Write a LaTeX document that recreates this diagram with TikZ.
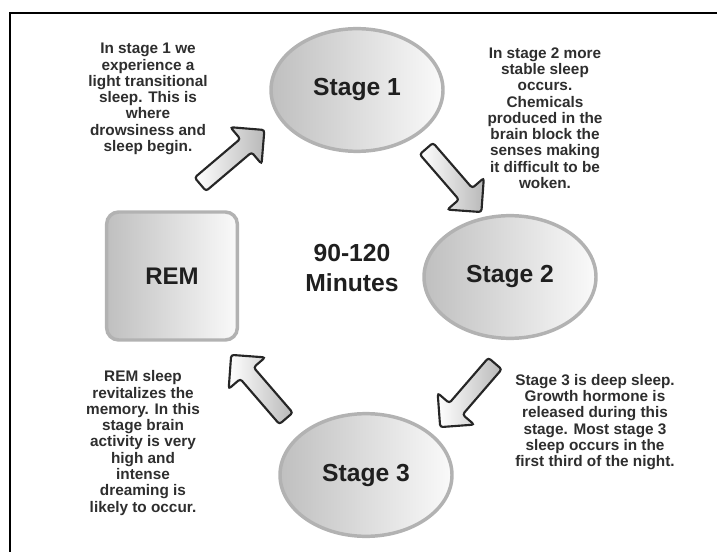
\documentclass[tikz,border=0pt]{standalone}
\usepackage{fontspec}
\setmainfont{Liberation Sans}
\usetikzlibrary{shapes.geometric,shapes.arrows}
\tikzset{
  stagenode/.style={ellipse, draw=gray!60, line width=2.6pt, left color=gray!50, right color=gray!4,
    minimum width=129pt, minimum height=92pt, text=black!88, font=\fontsize{18.5}{21}\selectfont\bfseries},
  remnode/.style={rectangle, rounded corners=9pt, draw=gray!60, line width=2.6pt, left color=gray!50, right color=gray!4,
    minimum width=98pt, minimum height=96pt, text=black!88, font=\fontsize{18}{21}\selectfont\bfseries},
  notetext/.style={align=center, text=black!82, font=\fontsize{11.5}{12.2}\selectfont\bfseries},
  blockarrow/.style={single arrow, draw=black!85, line width=1.6pt, rounded corners=2pt,
    minimum height=63pt, inner sep=5.8pt, single arrow head extend=11.5pt, single arrow tip angle=90,
    left color=white, right color=gray!55, midway, sloped, allow upside down}
}
\begin{document}
\begin{tikzpicture}[x=0.75pt, y=-0.75pt]
\useasboundingbox (0,0) rectangle (717,552);
\draw[line width=0.9pt] (10,552) -- (10,13) -- (717,13);
\node[stagenode] (s1) at (357,90) {Stage 1};
\node[stagenode] (s2) at (510,277) {Stage 2};
\node[stagenode] (s3) at (366,475) {Stage 3};
\node[remnode] (rem) at (172,276) {REM};
\node[align=center, text=black!88, font=\fontsize{18.5}{23}\selectfont\bfseries] (cyc) at (352,268) {90-120\\Minutes};
\node[notetext] (n1) at (148,99) {In stage 1 we\\experience a\\light transitional\\sleep. This is\\where\\drowsiness and\\sleep begin.};
\node[notetext] (n2) at (545,118) {In stage 2 more\\stable sleep\\occurs.\\Chemicals\\produced in the\\brain block the\\senses making\\it difficult to be\\woken.};
\node[notetext] (n3) at (595,422) {Stage 3 is deep sleep.\\Growth hormone is\\released during this\\stage. Most stage 3\\sleep occurs in the\\first third of the night.};
\node[notetext] (n4) at (143,443) {REM sleep\\revitalizes the\\memory. In this\\stage brain\\activity is very\\high and\\intense\\dreaming is\\likely to occur.};
\coordinate (t1) at (196,188);
\coordinate (h1) at (262,132);
\coordinate (t2) at (425,147);
\coordinate (h2) at (477,207);
\coordinate (t3) at (499,359);
\coordinate (h3) at (442,425);
\coordinate (t4) at (290,423);
\coordinate (h4) at (233,357);
\path (t1) -- (h1) node[blockarrow] (a1) {};
\path (t2) -- (h2) node[blockarrow] (a2) {};
\path (t3) -- (h3) node[blockarrow] (a3) {};
\path (t4) -- (h4) node[blockarrow] (a4) {};
\end{tikzpicture}
\end{document}
